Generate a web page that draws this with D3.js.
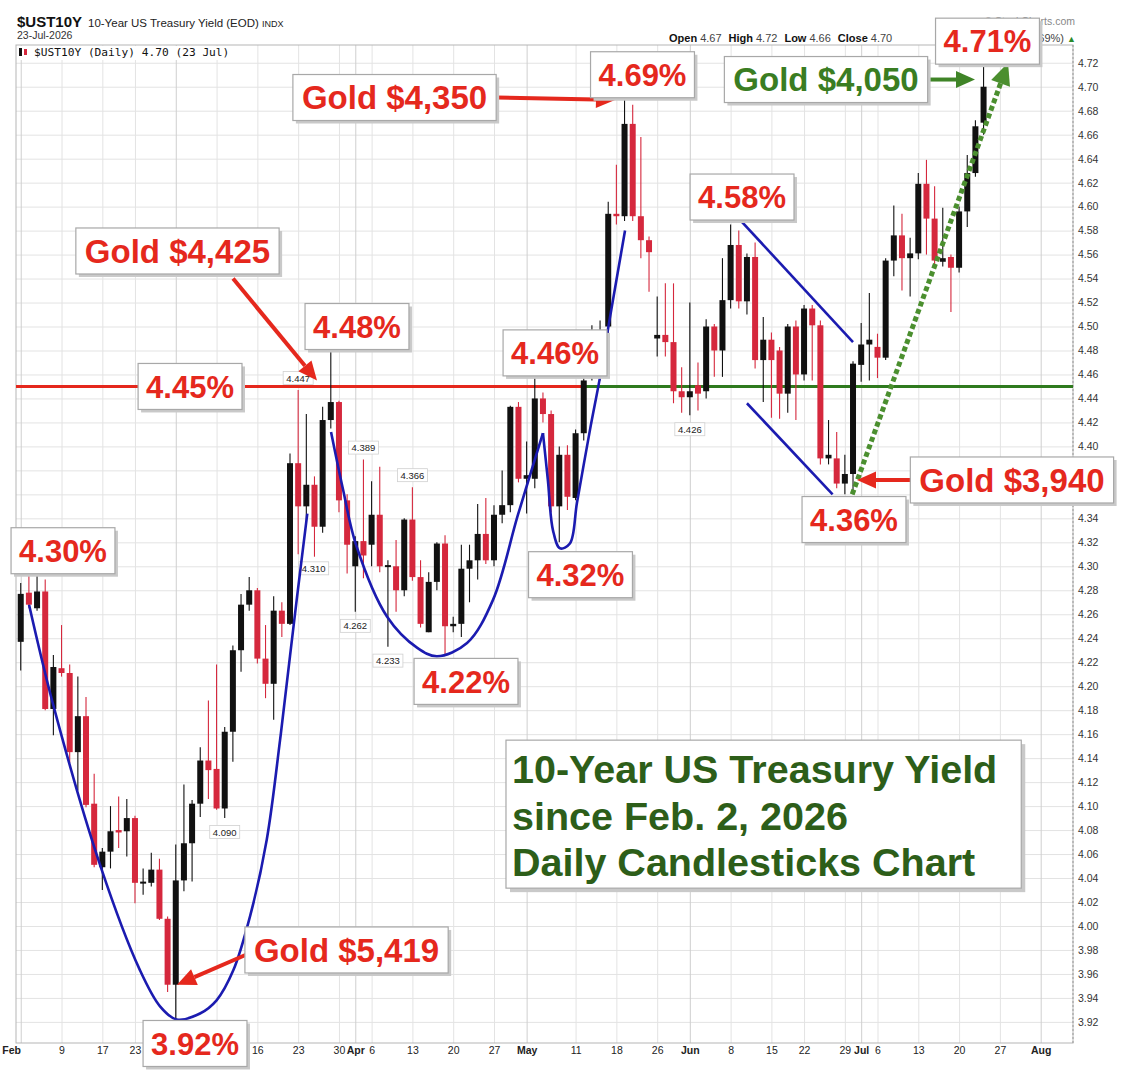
<!DOCTYPE html>
<html>
<head>
<meta charset="utf-8">
<script src="https://cdn.jsdelivr.net/npm/d3@7"></script>
<style>
  body { margin: 0; background: #fff; }
  svg { display: block; font-family: "Liberation Sans", Arial, sans-serif; }
</style>
</head>
<body>
<script>
var w = 1130,
    h = 1076;

// trading days per month (2026)
var febDays = [2,3,4,5,6,9,10,11,12,13,17,18,19,20,23,24,25,26,27];
var marDays = [2,3,4,5,6,9,10,11,12,13,16,17,18,19,20,23,24,25,26,27,30,31];
var aprDays = [1,2,6,7,8,9,10,13,14,15,16,17,20,21,22,23,24,27,28,29,30];
var mayDays = [1,4,5,6,7,8,11,12,13,14,15,18,19,20,21,22,26,27,28,29];
var junDays = [1,2,3,4,5,8,9,10,11,12,15,16,17,18,22,23,24,25,26,29,30];
var julDays = [1,2,6,7,8,9,10,13,14,15,16,17,20,21,22,23];
var monthNames = ['Feb', 'Mar', 'Apr', 'May', 'Jun', 'Jul'];

var opens = [4.237,4.278,4.265,4.279,4.181,4.215,4.211,4.145,4.175,4.102,
  4.049,4.062,4.080,4.079,4.090,4.036,4.036,4.047,4.006,3.951,
  4.038,4.069,4.102,4.138,4.131,4.098,4.162,4.230,4.268,4.280,
  4.223,4.202,4.263,4.252,4.386,4.350,4.368,4.333,4.422,4.437,
  4.355,4.300,4.321,4.318,4.343,4.300,4.300,4.280,4.339,4.291,
  4.245,4.287,4.319,4.250,4.252,4.298,4.305,4.327,4.305,4.343,
  4.351,4.433,4.373,4.373,4.440,4.427,4.350,4.393,4.357,4.411,
  4.458,4.461,4.500,4.594,4.592,4.669,4.592,4.572,4.490,4.493,
  4.487,4.446,4.441,4.451,4.446,4.500,4.480,4.522,4.568,4.521,
  4.558,4.472,4.489,4.480,4.444,4.500,4.460,4.515,4.501,4.390,
  4.390,4.369,4.377,4.468,4.485,4.483,4.474,4.555,4.576,4.557,
  4.561,4.619,4.590,4.554,4.558,4.549,4.596,4.628,4.670];
var highs = [4.286,4.294,4.293,4.289,4.226,4.251,4.218,4.208,4.191,4.127,
  4.065,4.100,4.108,4.106,4.092,4.048,4.061,4.056,4.008,4.068,
  4.118,4.105,4.149,4.188,4.218,4.166,4.234,4.277,4.291,4.282,
  4.251,4.275,4.270,4.394,4.447,4.427,4.375,4.433,4.480,4.438,
  4.360,4.325,4.389,4.371,4.383,4.305,4.322,4.340,4.366,4.305,
  4.295,4.320,4.326,4.258,4.318,4.318,4.352,4.357,4.351,4.380,
  4.434,4.437,4.404,4.460,4.445,4.430,4.400,4.401,4.414,4.462,
  4.501,4.505,4.604,4.635,4.689,4.685,4.658,4.575,4.525,4.536,
  4.536,4.466,4.520,4.470,4.506,4.502,4.557,4.585,4.580,4.561,
  4.570,4.508,4.495,4.483,4.502,4.505,4.518,4.518,4.505,4.422,
  4.412,4.393,4.471,4.503,4.528,4.494,4.557,4.601,4.594,4.574,
  4.628,4.639,4.617,4.599,4.560,4.600,4.643,4.672,4.720];
var lows = [4.213,4.265,4.263,4.180,4.159,4.208,4.136,4.113,4.099,4.049,
  4.030,4.048,4.065,4.058,4.019,4.026,4.033,4.005,3.945,3.921,
  4.029,4.037,4.091,4.106,4.097,4.090,4.137,4.212,4.263,4.219,
  4.190,4.172,4.241,4.251,4.310,4.333,4.308,4.328,4.415,4.345,
  4.294,4.262,4.290,4.300,4.295,4.233,4.262,4.275,4.288,4.249,
  4.245,4.280,4.226,4.245,4.241,4.270,4.289,4.302,4.300,4.336,
  4.345,4.370,4.344,4.365,4.420,4.345,4.320,4.347,4.355,4.405,
  4.455,4.455,4.490,4.585,4.588,4.588,4.557,4.529,4.475,4.475,
  4.436,4.428,4.426,4.430,4.440,4.458,4.458,4.515,4.515,4.510,
  4.465,4.437,4.424,4.423,4.428,4.422,4.455,4.455,4.385,4.385,
  4.365,4.360,4.360,4.454,4.455,4.457,4.472,4.542,4.530,4.525,
  4.556,4.560,4.550,4.550,4.512,4.545,4.583,4.625,4.660];
var closes = [4.277,4.268,4.279,4.181,4.216,4.211,4.145,4.175,4.101,4.051,
  4.062,4.079,4.078,4.090,4.036,4.037,4.047,4.006,3.951,4.038,
  4.069,4.102,4.138,4.130,4.098,4.162,4.230,4.268,4.280,4.223,
  4.202,4.263,4.252,4.386,4.350,4.368,4.333,4.422,4.437,4.355,
  4.318,4.321,4.309,4.343,4.300,4.301,4.280,4.339,4.291,4.252,
  4.287,4.319,4.250,4.252,4.298,4.305,4.327,4.305,4.343,4.351,
  4.433,4.373,4.376,4.440,4.427,4.350,4.393,4.358,4.411,4.455,
  4.461,4.490,4.594,4.592,4.669,4.592,4.572,4.562,4.493,4.487,
  4.446,4.441,4.446,4.444,4.500,4.480,4.522,4.568,4.521,4.558,
  4.472,4.489,4.472,4.444,4.500,4.460,4.515,4.501,4.390,4.393,
  4.369,4.377,4.469,4.485,4.489,4.474,4.555,4.576,4.557,4.561,
  4.619,4.590,4.555,4.557,4.549,4.596,4.628,4.667,4.700];

// x axis: trading-day index of each label (Jul 27 and Aug 3 are after the data)
var tickIdx = [0,5,10,14,19,24,29,34,39,41,43,48,53,58,62,68,73,78,82,87,92,96,101,103,105,110,115,120,125];
var tickText = ['Feb','9','17','23','Mar','9','16','23','30','Apr','6','13','20','27','May','11','18','26','Jun','8','15','22','29','Jul','6','13','20','27','Aug'];
var yTicks = [3.92,3.94,3.96,3.98,4.00,4.02,4.04,4.06,4.08,4.10,4.12,4.14,4.16,4.18,4.20,
  4.22,4.24,4.26,4.28,4.30,4.32,4.34,4.36,4.38,4.40,4.42,4.44,4.46,4.48,4.50,
  4.52,4.54,4.56,4.58,4.60,4.62,4.64,4.66,4.68,4.70,4.72];

// hi/lo price flags
var flagText = ['4.447','4.389','4.366','4.310','4.262','4.233','4.090','4.426'];
var flagIdx = [34, 42, 48, 35.9, 41, 45, 25, 82];
var flagVal = [4.447, 4.389, 4.366, 4.310, 4.262, 4.233, 4.090, 4.426];
var flagAbove = [true, true, true, false, false, false, false, false];

// annotation boxes, anchored at [trading-day index, yield]
var noteText = ['4.30%','3.92%','Gold $5,419','Gold $4,425','4.48%','4.45%','4.46%','4.32%',
  '4.22%','Gold $4,350','4.69%','4.58%','4.36%','Gold $3,940','Gold $4,050','4.71%'];
var noteIdx = [5.18, 21.36, 39.93, 19.21, 41.21, 20.75, 65.48, 68.6, 54.57, 45.81, 76.2, 88.4, 102.12, 121.48, 98.69, 118.48];
var noteVal = [4.313, 3.902, 3.980, 4.563, 4.500, 4.450, 4.478, 4.293, 4.204, 4.691, 4.710, 4.608, 4.339, 4.372, 4.706, 4.738];

var arrowFrom = [[26.02, 4.540], [58.37, 4.691], [27.61, 3.976], [109.35, 4.372], [111.3, 4.706]];
var arrowTo = [[36.31, 4.455], [72.83, 4.689], [19.15, 3.951], [102.49, 4.372], [116.95, 4.706]];
var arrowGreen = [false, false, false, false, true];

// hand-drawn blue curves
var bigU = [[1.02,4.268],[4.0,4.184],[9.72,4.051],[14.62,3.963],[17.07,3.933],[19.11,3.922],[21.97,3.927],
  [24.0,3.938],[26.05,3.963],[28.1,4.008],[30.15,4.072],[31.78,4.155],[33.0,4.225],[33.82,4.272],[35.12,4.344]];
var midU = [[38.03,4.412],[39.5,4.364],[41.09,4.318],[44.9,4.258],[48.6,4.232],[51.0,4.225],[54.7,4.236],
  [57.88,4.272],[60.94,4.343],[64.0,4.411]];
var smallU = [[64.0,4.411],[64.6,4.372],[65.23,4.330],[66.09,4.315],[67.3,4.319],[68.17,4.353],[69.77,4.414],
  [71.0,4.458],[72.2,4.507],[74.06,4.580]];
var channelTop = [[88.15,4.589],[102.0,4.487]];
var channelBottom = [[89.0,4.436],[99.5,4.360]];
var trendUp = [[101.9,4.360],[121.0,4.720]];
var level = 4.45, levelSplit = 68.9;

var titleLines = ['10-Year US Treasury Yield', 'since Feb. 2, 2026', 'Daily Candlesticks Chart'];

var red = '#e5281d', green = '#2f7a1e', blue = '#1b1bb0';
var candleRed = '#d5283d';

var plotLeft = 16, plotRight = 1073, plotTop = 45, plotBottom = 1043;

var dates = [];
[febDays, marDays, aprDays, mayDays, junDays, julDays].forEach(function(days, m) {
  days.forEach(function(d) { dates.push(monthNames[m] + ' ' + d); });
});
var candles = dates.map(function(d, i) {
  return {date: d, i: i, o: opens[i], h: highs[i], l: lows[i], c: closes[i]};
});

var x = d3.scaleLinear().domain([-0.58, 128.96]).range([plotLeft, plotRight]);
var y = d3.scaleLinear().domain([3.9024, 4.7348]).range([plotBottom, plotTop]);

var svg = d3.select('body').append('svg')
            .attr('width', w)
            .attr('height', h);

svg.append('rect').attr('width', w).attr('height', h).attr('fill', '#fff');

// grid
svg.append('g')
   .attr('transform', 'translate(' + plotLeft + ',0)')
   .call(d3.axisRight(y).tickValues(yTicks).tickSize(plotRight - plotLeft).tickFormat(''))
   .call(function(g) { g.select('.domain').remove(); })
   .selectAll('line').attr('stroke', '#e3e3e3');

svg.append('g')
   .attr('transform', 'translate(0,' + plotBottom + ')')
   .call(d3.axisBottom(x).tickValues(tickIdx).tickSize(-(plotBottom - plotTop)).tickFormat(''))
   .call(function(g) { g.select('.domain').remove(); })
   .selectAll('line')
   .attr('stroke', function(d, k) { return isNaN(+tickText[k]) ? '#cfcfcf' : '#e3e3e3'; });

// frame
svg.append('rect')
   .attr('x', plotLeft).attr('y', plotTop)
   .attr('width', plotRight - plotLeft).attr('height', plotBottom - plotTop)
   .attr('fill', 'none').attr('stroke', '#b5b5b5');
svg.append('line')
   .attr('x1', plotRight).attr('x2', plotRight).attr('y1', plotTop).attr('y2', plotBottom)
   .attr('stroke', '#999').attr('stroke-dasharray', '2,2');

// y axis labels
var yAxis = svg.append('g')
   .attr('transform', 'translate(' + plotRight + ',0)')
   .call(d3.axisRight(y).tickValues(yTicks).tickSize(0).tickPadding(5).tickFormat(d3.format('.2f')));
yAxis.select('.domain').remove();
yAxis.selectAll('text')
     .attr('font-family', '"Liberation Sans", Arial, sans-serif')
     .attr('font-size', 10.5).attr('fill', '#333');

// x axis labels
var xAxis = svg.append('g')
   .attr('transform', 'translate(0,' + plotBottom + ')')
   .call(d3.axisBottom(x).tickValues(tickIdx).tickSize(0).tickPadding(4)
           .tickFormat(function(d, k) { return tickText[k]; }));
xAxis.select('.domain').remove();
xAxis.selectAll('text')
     .attr('font-family', '"Liberation Sans", Arial, sans-serif')
     .attr('font-size', 10.5).attr('fill', '#222')
     .attr('font-weight', function(d, k) { return isNaN(+tickText[k]) ? 'bold' : 'normal'; });
xAxis.selectAll('text').filter(function(d, k) { return k === 0; })
     .attr('text-anchor', 'start').attr('x', -19);

// 4.45% level: red, then green
svg.append('line')
   .attr('x1', plotLeft).attr('x2', x(levelSplit))
   .attr('y1', y(level)).attr('y2', y(level))
   .attr('stroke', red).attr('stroke-width', 3);
svg.append('line')
   .attr('x1', x(levelSplit)).attr('x2', plotRight)
   .attr('y1', y(level)).attr('y2', y(level))
   .attr('stroke', green).attr('stroke-width', 3);

// candles
var bodyW = 6;
var cg = svg.append('g');
cg.selectAll('line.wick')
  .data(candles)
  .enter()
  .append('line')
  .attr('class', 'wick')
  .attr('x1', function(d) { return x(d.i); })
  .attr('x2', function(d) { return x(d.i); })
  .attr('y1', function(d) { return y(d.h); })
  .attr('y2', function(d) { return y(d.l); })
  .attr('stroke', function(d) { return d.c < d.o ? candleRed : '#111'; })
  .attr('stroke-width', 1.1);
cg.selectAll('rect.body')
  .data(candles)
  .enter()
  .append('rect')
  .attr('class', 'body')
  .attr('x', function(d) { return x(d.i) - bodyW / 2; })
  .attr('width', bodyW)
  .attr('y', function(d) { return y(Math.max(d.o, d.c)); })
  .attr('height', function(d) { return Math.max(2, Math.abs(y(d.o) - y(d.c))); })
  .attr('fill', function(d) { return d.c < d.o ? candleRed : '#111'; });

// hi/lo flags
flagText.forEach(function(t, k) {
  var fx = x(flagIdx[k]);
  var fy = flagAbove[k] ? y(flagVal[k]) - 12 : y(flagVal[k]) + 14;
  var g = svg.append('g');
  g.append('rect')
   .attr('x', fx - 15).attr('y', fy - 6.5)
   .attr('width', 30).attr('height', 13)
   .attr('fill', '#fff').attr('stroke', '#d0d0d0').attr('stroke-width', 0.8);
  g.append('text')
   .attr('x', fx).attr('y', fy + 3.5)
   .attr('text-anchor', 'middle')
   .attr('font-size', 9.5).attr('fill', '#222')
   .text(t);
});

// blue curves
var curveLine = d3.line()
                  .x(function(d) { return x(d[0]); })
                  .y(function(d) { return y(d[1]); })
                  .curve(d3.curveCatmullRom.alpha(0.5));
[bigU, midU, smallU, channelTop, channelBottom].forEach(function(pts) {
  svg.append('path')
     .attr('d', curveLine(pts))
     .attr('fill', 'none')
     .attr('stroke', blue)
     .attr('stroke-width', 2.6);
});

// arrows
function arrow(x1, y1, x2, y2, color, width, headLen, headW, dash) {
  var ang = Math.atan2(y2 - y1, x2 - x1);
  var bx = x2 - headLen * Math.cos(ang),
      by = y2 - headLen * Math.sin(ang);
  svg.append('line')
     .attr('x1', x1).attr('y1', y1).attr('x2', bx).attr('y2', by)
     .attr('stroke', color).attr('stroke-width', width)
     .attr('stroke-dasharray', dash || null);
  var px = -Math.sin(ang) * headW / 2,
      py = Math.cos(ang) * headW / 2;
  svg.append('path')
     .attr('d', 'M' + x2 + ',' + y2 + 'L' + (bx + px) + ',' + (by + py) + 'L' + (bx - px) + ',' + (by - py) + 'Z')
     .attr('fill', color);
}

arrow(x(trendUp[0][0]), y(trendUp[0][1]), x(trendUp[1][0]), y(trendUp[1][1]),
      '#4b8f2f', 5, 22, 20, '5,3');

arrowFrom.forEach(function(f, k) {
  var t = arrowTo[k];
  arrow(x(f[0]), y(f[1]), x(t[0]), y(t[1]),
        arrowGreen[k] ? '#3f8427' : red, 4, 19, 17);
});

// header
svg.append('text')
   .attr('x', 17).attr('y', 27)
   .attr('font-size', 15).attr('font-weight', 'bold').attr('fill', '#111')
   .text('$UST10Y');
var sub = svg.append('text').attr('x', 88).attr('y', 27).attr('font-size', 11.5).attr('fill', '#222');
sub.append('tspan').text('10-Year US Treasury Yield (EOD) ');
sub.append('tspan').attr('font-size', 9).text('INDX');
svg.append('text')
   .attr('x', 17).attr('y', 39)
   .attr('font-size', 10.5).attr('fill', '#333')
   .text('23-Jul-2026');

svg.append('text')
   .attr('x', 1075).attr('y', 25).attr('text-anchor', 'end')
   .attr('font-size', 10.5).attr('fill', '#888')
   .text('\u00A9 StockCharts.com');

var ohlc = svg.append('text').attr('x', 669).attr('y', 42).attr('font-size', 11).attr('fill', '#444');
[['Open', '4.67'], ['High', '4.72'], ['Low', '4.66'], ['Close', '4.70']].forEach(function(p, k) {
  ohlc.append('tspan').attr('dx', k ? 7 : 0).attr('font-weight', 'bold').attr('fill', '#111').text(p[0]);
  ohlc.append('tspan').attr('dx', 3).text(p[1]);
});
var chg = svg.append('text').attr('x', 1076).attr('y', 42).attr('text-anchor', 'end').attr('font-size', 11).attr('fill', '#444');
chg.append('tspan').attr('font-weight', 'bold').attr('fill', '#111').text('Chg ');
chg.append('tspan').text('+0.03 (+0.69%) ');
chg.append('tspan').attr('fill', '#2a8a2a').attr('font-size', 9).text('\u25B2');

// legend inside plot
svg.append('rect')
   .attr('x', plotLeft + 1).attr('y', plotTop + 1)
   .attr('width', 222).attr('height', 14)
   .attr('fill', '#fff');
svg.append('rect').attr('x', 19).attr('y', 48).attr('width', 3).attr('height', 8).attr('fill', '#111');
svg.append('rect').attr('x', 24).attr('y', 49).attr('width', 3).attr('height', 6).attr('fill', candleRed);
svg.append('text')
   .attr('x', 34).attr('y', 56)
   .attr('font-family', '"DejaVu Sans Mono", monospace')
   .attr('font-size', 11.2).attr('fill', '#111')
   .text('$UST10Y (Daily) 4.70 (23 Jul)');

// annotation boxes
function noteBox(cx, cy, txt, color, size, pad) {
  var g = svg.append('g');
  var t = g.append('text')
           .attr('x', cx).attr('y', cy + size * 0.36)
           .attr('text-anchor', 'middle')
           .attr('font-size', size).attr('font-weight', 'bold')
           .attr('fill', color)
           .text(txt);
  var bw = t.node().getComputedTextLength() + pad,
      bh = 46;
  g.insert('rect', 'text')
   .attr('x', cx - bw / 2 + 3).attr('y', cy - bh / 2 + 3)
   .attr('width', bw).attr('height', bh)
   .attr('fill', '#c9c9c9');
  g.insert('rect', 'text')
   .attr('x', cx - bw / 2).attr('y', cy - bh / 2)
   .attr('width', bw).attr('height', bh)
   .attr('fill', '#fff').attr('stroke', '#a8a8a8').attr('stroke-width', 1.2);
}

noteText.forEach(function(txt, k) {
  var isGold = txt.indexOf('Gold') === 0;
  var color = txt === 'Gold $4,050' ? '#3a7d22' : red;
  noteBox(x(noteIdx[k]), y(noteVal[k]), txt, color, isGold ? 33 : 31, isGold ? 18 : 16);
});

// title box
var tx = x(59.47), ty = y(4.155);
var tg = svg.append('g');
var maxW = 0;
titleLines.forEach(function(line, k) {
  var t = tg.append('text')
            .attr('x', tx + 6).attr('y', ty + 43 + k * 46.5)
            .attr('font-size', 39.5).attr('font-weight', 'bold')
            .attr('fill', '#2d5e19')
            .text(line);
  maxW = Math.max(maxW, t.node().getComputedTextLength());
});
tg.insert('rect', 'text')
  .attr('x', tx + 4).attr('y', ty + 4)
  .attr('width', maxW + 30).attr('height', 148)
  .attr('fill', '#c9c9c9');
tg.insert('rect', 'text')
  .attr('x', tx).attr('y', ty)
  .attr('width', maxW + 30).attr('height', 148)
  .attr('fill', '#fff').attr('stroke', '#a8a8a8').attr('stroke-width', 1.2);
</script>
</body>
</html>
